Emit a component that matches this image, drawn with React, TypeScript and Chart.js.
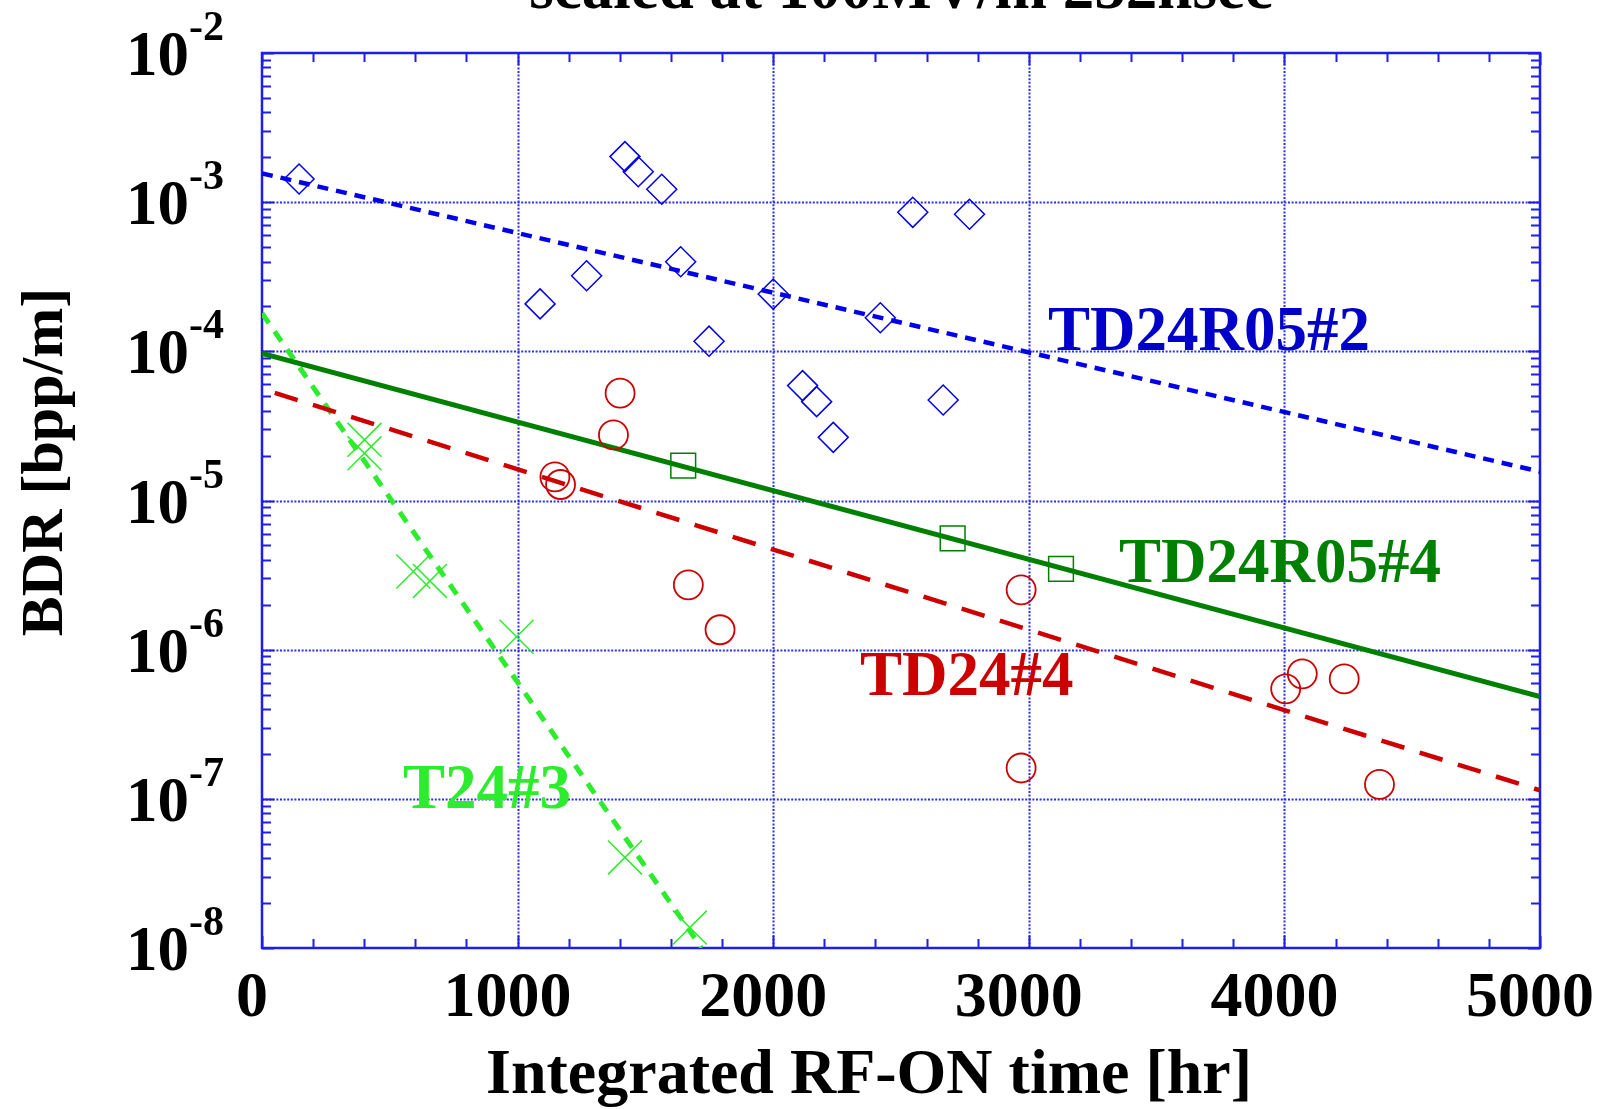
import React, { useEffect, useRef } from 'react';
import { Chart, registerables } from 'chart.js';

Chart.register(...registerables);

const W = 1599;
const H = 1109;
const FONT = '"Liberation Serif", "Times New Roman", serif';

// ---- data (x: integrated RF-ON time [hr], y: BDR [bpp/m]) ----
const td24r05n2Hours = [145, 1088, 1270, 1420, 1472, 1564, 1638, 1749, 2000, 2115, 2170, 2235, 2419, 2546, 2665, 2768];
const td24r05n2Bdr = [1.43e-3, 2.08e-4, 3.21e-4, 2.02e-3, 1.6e-3, 1.22e-3, 3.99e-4, 1.17e-4, 2.42e-4, 5.89e-5, 4.6e-5, 2.65e-5, 1.68e-4, 8.55e-4, 4.72e-5, 8.3e-4];

const td24r05n4Hours = [1648, 2702, 3126];
const td24r05n4Bdr = [1.71e-5, 5.58e-6, 3.48e-6];

const td24n4Hours = [1146, 1168, 1375, 1401, 1668, 1792, 2970, 2970, 4005, 4070, 4234, 4372];
const td24n4Bdr = [1.44e-5, 1.28e-5, 2.75e-5, 5.24e-5, 2.72e-6, 1.36e-6, 2.52e-6, 1.61e-7, 5.46e-7, 6.89e-7, 6.37e-7, 1.25e-7];

const t24n3Hours = [401, 401, 592, 657, 996, 1420, 1674];
const t24n3Bdr = [2.55e-5, 2.07e-5, 3.34e-6, 2.89e-6, 1.22e-6, 4.05e-8, 1.37e-8];

// exponential fits (end points)
const fitTd24r05n2Hours = [0, 5000];
const fitTd24r05n2Bdr = [1.56e-3, 1.56e-5];
const fitTd24r05n4Hours = [0, 5000];
const fitTd24r05n4Bdr = [9.7e-5, 4.85e-7];
const fitTd24n4Hours = [50, 5000];
const fitTd24n4Bdr = [5.26e-5, 1.14e-7];
const fitT24n3Hours = [0, 1720];
const fitT24n3Bdr = [1.8e-4, 1.0e-8];

// axes
const xTickValues = [0, 1000, 2000, 3000, 4000, 5000];
const xTickLabels = ['0', '1000', '2000', '3000', '4000', '5000'];
const yTickExponents = [-8, -7, -6, -5, -4, -3, -2];

// series labels placed in data coordinates
const seriesLabels = ['TD24R05#2', 'TD24R05#4', 'TD24#4', 'T24#3'];
const seriesLabelHours = [3075, 3353, 2340, 552];
const seriesLabelBdr = [1.02e-4, 2.84e-6, 4.98e-7, 8.7e-8];

const titleText = 'scaled at 100MV/m 252nsec';
const xTitle = 'Integrated RF-ON time [hr]';
const yTitle = 'BDR [bpp/m]';

const BLUE = 'rgb(0,0,235)';
const LABEL_BLUE = 'rgb(0,0,200)';
const DKGREEN = 'rgb(0,128,0)';
const RED = 'rgb(204,0,0)';
const LTGREEN = 'rgb(45,235,45)';
const AXIS = 'rgb(30,30,230)';
const GRID = 'rgb(45,45,235)';

const labelColors = [LABEL_BLUE, DKGREEN, RED, LTGREEN];

const pts = (xs: number[], ys: number[]) => xs.map((x, i) => ({ x, y: ys[i] }));

export default function App() {
  const ref = useRef<HTMLCanvasElement>(null);

  useEffect(() => {
    const canvas = ref.current;
    if (!canvas) return;

    const framePlugin = {
      id: 'frameAndText',
      beforeDatasetsDraw(chart: any) {
        const { ctx, chartArea: a, scales } = chart;
        const x = scales.x;
        const y = scales.y;
        ctx.save();
        // dotted grid
        ctx.strokeStyle = GRID;
        ctx.lineWidth = 2;
        ctx.setLineDash([2, 1.6]);
        for (const v of xTickValues) {
          if (v === 0 || v === 5000) continue;
          const px = Math.round(x.getPixelForValue(v)) + 0.5;
          ctx.beginPath();
          ctx.moveTo(px, a.top);
          ctx.lineTo(px, a.bottom);
          ctx.stroke();
        }
        for (const e of yTickExponents) {
          if (e === -8 || e === -2) continue;
          const py = Math.round(y.getPixelForValue(Math.pow(10, e))) + 0.5;
          ctx.beginPath();
          ctx.moveTo(a.left, py);
          ctx.lineTo(a.right, py);
          ctx.stroke();
        }
        ctx.setLineDash([]);
        // ticks (inward)
        ctx.strokeStyle = AXIS;
        ctx.lineWidth = 2;
        for (let v = 0; v <= 5000; v += 200) {
          const major = v % 1000 === 0;
          const len = major ? 12 : 9;
          const px = Math.round(x.getPixelForValue(v)) + 0.5;
          ctx.beginPath();
          ctx.moveTo(px, a.bottom);
          ctx.lineTo(px, a.bottom - len);
          ctx.moveTo(px, a.top);
          ctx.lineTo(px, a.top + len);
          ctx.stroke();
        }
        for (const e of yTickExponents) {
          for (let m = 1; m <= 9; m++) {
            if (e === -2 && m > 1) break;
            const major = m === 1;
            const len = major ? 12 : 9;
            const py = Math.round(y.getPixelForValue(m * Math.pow(10, e))) + 0.5;
            ctx.beginPath();
            ctx.moveTo(a.left, py);
            ctx.lineTo(a.left + len, py);
            ctx.moveTo(a.right, py);
            ctx.lineTo(a.right - len, py);
            ctx.stroke();
          }
        }
        // frame
        ctx.lineWidth = 2.5;
        ctx.strokeRect(a.left, a.top, a.right - a.left, a.bottom - a.top);
        ctx.restore();
      },
      afterDatasetsDraw(chart: any) {
        const { ctx, chartArea: a, scales } = chart;
        const x = scales.x;
        const y = scales.y;
        ctx.save();
        ctx.fillStyle = '#000';
        // x tick labels
        ctx.font = `bold 64px ${FONT}`;
        ctx.textAlign = 'center';
        ctx.textBaseline = 'alphabetic';
        xTickValues.forEach((v, i) => {
          ctx.fillText(xTickLabels[i], x.getPixelForValue(v) - 10, 1016);
        });
        // y tick labels 10^e
        for (const e of yTickExponents) {
          const py = y.getPixelForValue(Math.pow(10, e));
          ctx.font = `bold 63px ${FONT}`;
          ctx.textAlign = 'right';
          ctx.textBaseline = 'alphabetic';
          ctx.fillText('10', a.left - 73, py + 22);
          ctx.font = `bold 42px ${FONT}`;
          ctx.textAlign = 'left';
          ctx.fillText('-' + Math.abs(e), a.left - 73, py - 13);
        }
        // axis titles
        ctx.font = `bold 64px ${FONT}`;
        ctx.textAlign = 'center';
        ctx.fillText(xTitle, 869, 1093);
        ctx.save();
        ctx.translate(62, 462);
        ctx.rotate(-Math.PI / 2);
        ctx.font = `bold 60px ${FONT}`;
        ctx.fillText(yTitle, 0, 0);
        ctx.restore();
        // main title (cut off at top)
        ctx.font = `bold 63px ${FONT}`;
        ctx.textAlign = 'center';
        ctx.fillText(titleText, (a.left + a.right) / 2, 8);
        // series labels
        ctx.font = `bold 63px ${FONT}`;
        ctx.textAlign = 'left';
        seriesLabels.forEach((t, i) => {
          ctx.fillStyle = labelColors[i];
          ctx.fillText(t, x.getPixelForValue(seriesLabelHours[i]), y.getPixelForValue(seriesLabelBdr[i]));
        });
        ctx.restore();
      },
    };

    const chart = new Chart(canvas, {
      type: 'scatter',
      data: {
        datasets: [
          {
            label: 'TD24R05#2',
            data: pts(td24r05n2Hours, td24r05n2Bdr),
            pointStyle: 'rectRot',
            pointRadius: 15,
            pointBorderWidth: 1.5,
            borderColor: BLUE,
            backgroundColor: 'rgba(0,0,0,0)',
            showLine: false,
          },
          {
            label: 'TD24R05#4',
            data: pts(td24r05n4Hours, td24r05n4Bdr),
            pointStyle: 'rect',
            pointRadius: 17.5,
            pointBorderWidth: 1.5,
            borderColor: DKGREEN,
            backgroundColor: 'rgba(0,0,0,0)',
            showLine: false,
          },
          {
            label: 'TD24#4',
            data: pts(td24n4Hours, td24n4Bdr),
            pointStyle: 'circle',
            pointRadius: 14.5,
            pointBorderWidth: 1.8,
            borderColor: RED,
            backgroundColor: 'rgba(0,0,0,0)',
            showLine: false,
          },
          {
            label: 'T24#3',
            data: pts(t24n3Hours, t24n3Bdr),
            pointStyle: 'crossRot',
            pointRadius: 24,
            pointBorderWidth: 1.5,
            borderColor: LTGREEN,
            backgroundColor: 'rgba(0,0,0,0)',
            showLine: false,
          },
          {
            label: 'fit TD24R05#2',
            data: pts(fitTd24r05n2Hours, fitTd24r05n2Bdr),
            showLine: true,
            pointRadius: 0,
            borderColor: BLUE,
            borderWidth: 4.5,
            borderDash: [11, 8],
          },
          {
            label: 'fit TD24R05#4',
            data: pts(fitTd24r05n4Hours, fitTd24r05n4Bdr),
            showLine: true,
            pointRadius: 0,
            borderColor: DKGREEN,
            borderWidth: 5,
          },
          {
            label: 'fit TD24#4',
            data: pts(fitTd24n4Hours, fitTd24n4Bdr),
            showLine: true,
            pointRadius: 0,
            borderColor: RED,
            borderWidth: 4.5,
            borderDash: [24, 16],
          },
          {
            label: 'fit T24#3',
            data: pts(fitT24n3Hours, fitT24n3Bdr),
            showLine: true,
            pointRadius: 0,
            borderColor: LTGREEN,
            borderWidth: 5,
            borderDash: [12, 10],
          },
        ],
      },
      options: {
        animation: false,
        responsive: false,
        devicePixelRatio: 1,
        layout: { padding: { top: 53, right: 59, bottom: 0, left: 0 } },
        plugins: {
          legend: { display: false },
          title: { display: false },
          tooltip: { enabled: false },
        },
        scales: {
          x: {
            type: 'linear',
            min: 0,
            max: 5000,
            grid: { display: false },
            border: { display: false },
            ticks: { display: false },
            afterFit: (s: any) => {
              s.height = H - 948;
            },
          },
          y: {
            type: 'logarithmic',
            min: 1e-8,
            max: 1e-2,
            grid: { display: false },
            border: { display: false },
            ticks: { display: false },
            afterFit: (s: any) => {
              s.width = 262;
            },
          },
        },
      },
      plugins: [framePlugin],
    } as any);

    return () => chart.destroy();
  }, []);

  return (
    <canvas
      ref={ref}
      width={W}
      height={H}
      style={{ position: 'fixed', left: 0, top: 0, width: W, height: H, display: 'block', background: '#fff' }}
    />
  );
}
